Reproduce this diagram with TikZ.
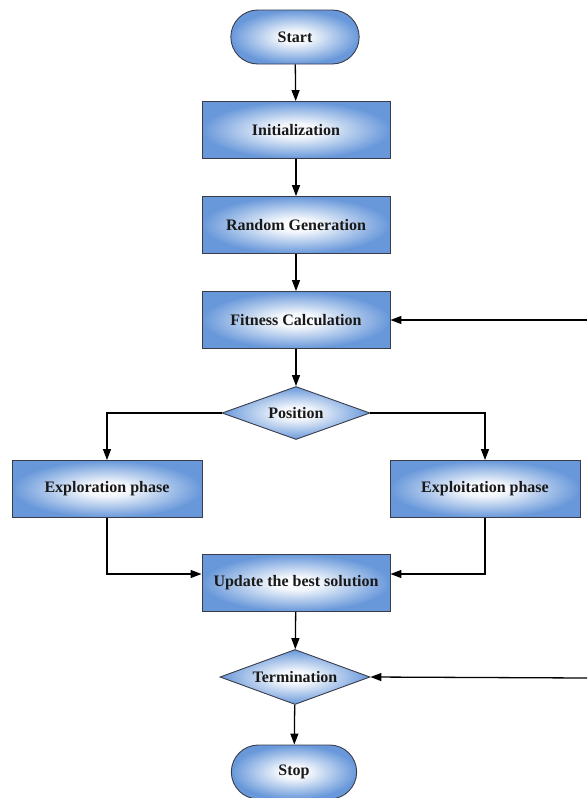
\documentclass[tikz,border=0pt]{standalone}
\usepackage{fontspec}
\setmainfont{Liberation Serif}
\usetikzlibrary{shapes.geometric,shapes.misc,arrows.meta}
\definecolor{flowblue}{RGB}{104,152,218}
\definecolor{flowedge}{RGB}{58,60,74}
\pgfdeclareradialshading{flowglow}{\pgfpoint{0bp}{0bp}}{%
  color(0bp)=(white); color(6bp)=(white!92!flowblue); color(25bp)=(flowblue); color(50bp)=(flowblue)}
\tikzset{
  base/.style={draw=flowedge, line width=0.9pt, shading=flowglow,
    font=\fontsize{16}{18}\selectfont\bfseries, text=black!90},
  term/.style={base, rounded rectangle, minimum width=135pt, minimum height=54pt},
  procbox/.style={base, rectangle, minimum width=188pt, minimum height=57pt},
  decide/.style={base, diamond, shape aspect=2.8, inner sep=0pt, minimum width=148pt, minimum height=53pt},
  flow/.style={line width=1.3pt, -{Triangle[length=11pt,width=8pt]}}
}
\begin{document}
\begin{tikzpicture}[x=1pt,y=-1pt]
\useasboundingbox (0,0) rectangle (587,798);

% main column
\node[term]    (start)   at (295,37)  {Start};
\node[procbox] (init)    at (296,130) {Initialization};
\node[procbox] (rand)    at (296,225) {Random Generation};
\node[procbox] (fit)     at (296,320) {Fitness Calculation};
\node[decide]  (pos)     at (296,413) {Position};
\node[procbox, minimum width=190pt] (explor)  at (107,489) {Exploration phase};
\node[procbox, minimum width=190pt] (exploit) at (485,489) {Exploitation phase};
\node[procbox] (upd)     at (296,583) {Update the best solution};
\node[decide, minimum width=150pt, minimum height=55pt] (term) at (295,677) {Termination};
\node[term, minimum width=132pt] (stop) at (294,772) {Stop};

% loose ends on the right
\coordinate (fitin)  at (587,320);
\coordinate (termin) at (587,678);

\draw[flow] (start) -- (init);
\draw[flow] (init) -- (rand);
\draw[flow] (rand) -- (fit);
\draw[flow] (fit) -- (pos);
\draw[flow] (pos.west) -| (explor.north);
\draw[flow] (pos.east) -| (exploit.north);
\draw[flow] (explor.south) |- ([yshift=9pt]upd.west);
\draw[flow] (exploit.south) |- ([yshift=9pt]upd.east);
\draw[flow] (upd) -- (term);
\draw[flow] (term) -- (stop);
\draw[flow] (fitin) -- (fit.east);
\draw[flow] (termin) -- (term.east);
\end{tikzpicture}
\end{document}
